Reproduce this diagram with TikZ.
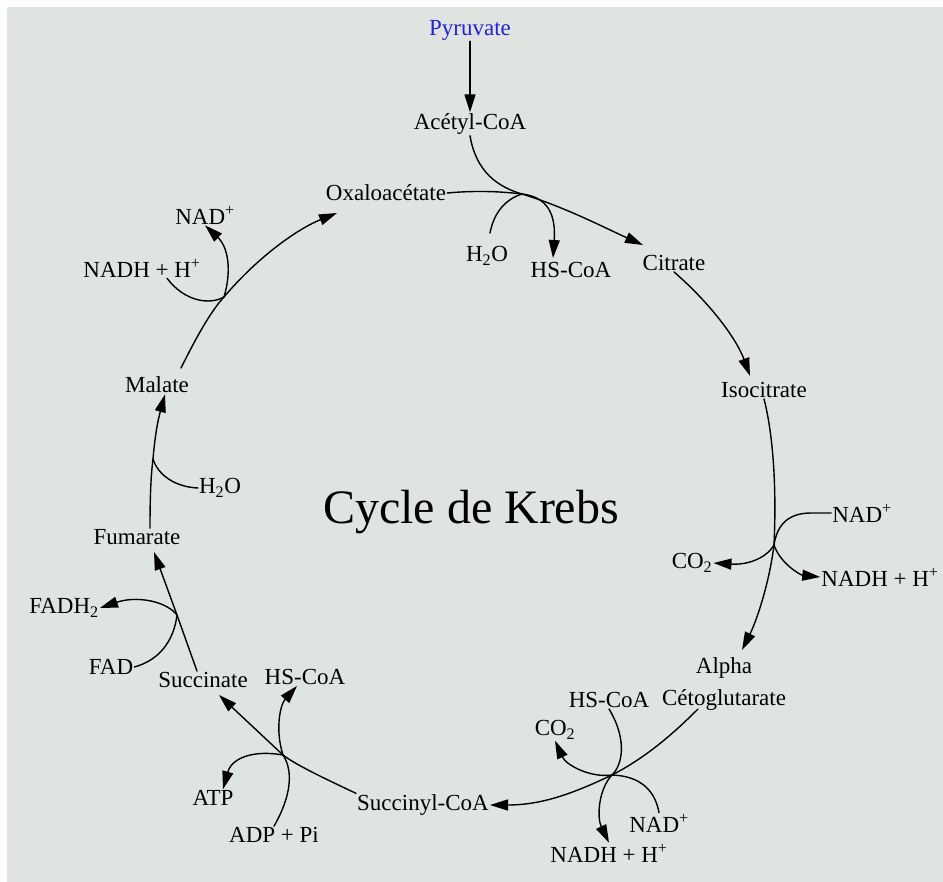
\documentclass[tikz,border=0pt]{standalone}
\usepackage{fontspec}
\setmainfont{Liberation Serif}
\usetikzlibrary{arrows.meta}
\definecolor{bg}{RGB}{224,228,225}
\definecolor{pyrblue}{RGB}{35,35,205}
\begin{document}
\begin{tikzpicture}[x=1pt,y=-1pt,
  lbl/.style={font=\fontsize{23}{32}\selectfont, inner sep=1pt},
  ln/.style={line width=1.4pt, line cap=round},
  arr/.style={ln, -{Triangle[length=18pt,width=11pt]}}]
\useasboundingbox (0,0) rectangle (943,882);
\fill[white] (0,0) rectangle (943,882);
\fill[bg] (7,7) rectangle (943,882);
% labels
\node[lbl,text=pyrblue] (pyr) at (470,30) {Pyruvate};
\node[lbl] (acetyl) at (470,124) {Acétyl-CoA};
\node[lbl] (oxa) at (386,193) {Oxaloacétate};
\node[lbl] (citrate) at (674,263) {Citrate};
\node[lbl] (iso) at (764,390) {Isocitrate};
\node[lbl] (nadR) at (862,513) {NAD\textsuperscript{+}};
\node[lbl] (co2R) at (692,563) {CO\textsubscript{2}};
\node[lbl] (nadhR) at (880,577) {NADH + H\textsuperscript{+}};
\node[lbl,align=center] (akg) at (724,684) {Alpha\\Cétoglutarate};
\node[lbl] (hscoaBR) at (609,700) {HS-CoA};
\node[lbl] (co2B) at (555,730) {CO\textsubscript{2}};
\node[lbl] (nadB) at (659,823) {NAD\textsuperscript{+}};
\node[lbl] (nadhB) at (609,853) {NADH + H\textsuperscript{+}};
\node[lbl] (succoa) at (423,805) {Succinyl-CoA};
\node[lbl] (adp) at (274,835) {ADP + Pi};
\node[lbl] (atp) at (213,798) {ATP};
\node[lbl] (hscoaBL) at (305,677) {HS-CoA};
\node[lbl] (succ) at (203,680) {Succinate};
\node[lbl] (fad) at (111,667) {FAD};
\node[lbl] (fadh) at (64,608) {FADH\textsubscript{2}};
\node[lbl] (fum) at (137,537) {Fumarate};
\node[lbl] (h2oL) at (220,488) {H\textsubscript{2}O};
\node[lbl] (malate) at (157,385) {Malate};
\node[lbl] (nadhL) at (142,268) {NADH + H\textsuperscript{+}};
\node[lbl] (nadL) at (205,215) {NAD\textsuperscript{+}};
\node[lbl] (h2oT) at (487,256) {H\textsubscript{2}O};
\node[lbl] (hscoaT) at (571,270) {HS-CoA};
\node[font=\fontsize{48}{56}\selectfont] (title) at (471,512) {Cycle de Krebs};
% junctions and free ends
\coordinate (j1) at (522,194);
\coordinate (j2) at (774,545);
\coordinate (j3) at (612,775);
\coordinate (j4) at (283,755);
\coordinate (j5) at (177,615);
\coordinate (j6) at (153,459);
\coordinate (j7) at (224,297);
\coordinate (tCit) at (643,245);
\coordinate (tHsT) at (553,258);
\coordinate (sH2oT) at (490,233);
\coordinate (tIso) at (750,376);
\coordinate (tAkg) at (742,650);
\coordinate (sAkg) at (698,709);
\coordinate (tSucc) at (219,695);
\coordinate (tFum) at (154,552);
\coordinate (sMal) at (181,368);
\coordinate (tOxa) at (337,213);
% connectors
\draw[arr] (pyr.south) -- (acetyl.north);
\draw[ln] (acetyl.south) .. controls (476,172) and (498,187) .. (j1);
\draw[arr] (oxa.east) .. controls (480,190) and (505,192) .. (j1) .. controls (565,207) and (605,228) .. (tCit);
\draw[ln] (sH2oT) .. controls (494,212) and (506,199) .. (j1);
\draw[arr] (j1) .. controls (548,197) and (556,215) .. (tHsT);
\draw[arr] (citrate.south) .. controls (712,305) and (737,340) .. (tIso);
\draw[arr] (iso.south) .. controls (772,430) and (777,480) .. (j2) .. controls (769,585) and (756,622) .. (tAkg);
\draw[ln] (nadR.west) -- ++(-20,0) .. controls (788,513) and (777,525) .. (j2);
\draw[arr] (j2) .. controls (765,560) and (745,565) .. (co2R.east);
\draw[arr] (j2) .. controls (780,563) and (800,575) .. (nadhR.west);
\draw[arr] (sAkg) .. controls (672,735) and (645,758) .. (j3) .. controls (570,795) and (540,805) .. (succoa.east);
\draw[ln] (hscoaBR.south) .. controls (625,735) and (625,762) .. (j3);
\draw[arr] (j3) .. controls (590,778) and (566,765) .. (co2B.south);
\draw[arr] (j3) .. controls (598,790) and (597,818) .. (nadhB.north);
\draw[ln] (nadB.north) .. controls (655,790) and (640,776) .. (j3);
\draw[arr] (succoa.north west) .. controls (315,774) and (295,764) .. (j4) -- (tSucc);
\draw[arr] (j4) .. controls (275,730) and (280,705) .. ([xshift=-8pt]hscoaBL.south);
\draw[arr] (j4) .. controls (255,750) and (232,757) .. ([xshift=10pt]atp.north);
\draw[ln] (adp.north) .. controls (292,795) and (293,770) .. (j4);
\draw[arr] ([xshift=-6pt]succ.north) -- (j5) -- (tFum);
\draw[ln] (fad.east) .. controls (160,660) and (174,640) .. (j5);
\draw[arr] (j5) .. controls (165,600) and (135,596) .. (fadh.east);
\draw[arr] ([xshift=13pt]fum.north) .. controls (150,495) and (151,475) .. (j6) .. controls (155,435) and (158,420) .. ([xshift=8pt]malate.south);
\draw[ln] (h2oL.west) .. controls (175,487) and (158,475) .. (j6);
\draw[arr] (sMal) .. controls (195,340) and (210,312) .. (j7) .. controls (255,260) and (295,230) .. (tOxa);
\draw[ln] ([xshift=25pt]nadhL.south) .. controls (185,302) and (210,305) .. (j7);
\draw[arr] (j7) .. controls (232,270) and (228,247) .. (nadL.south);
\end{tikzpicture}
\end{document}
